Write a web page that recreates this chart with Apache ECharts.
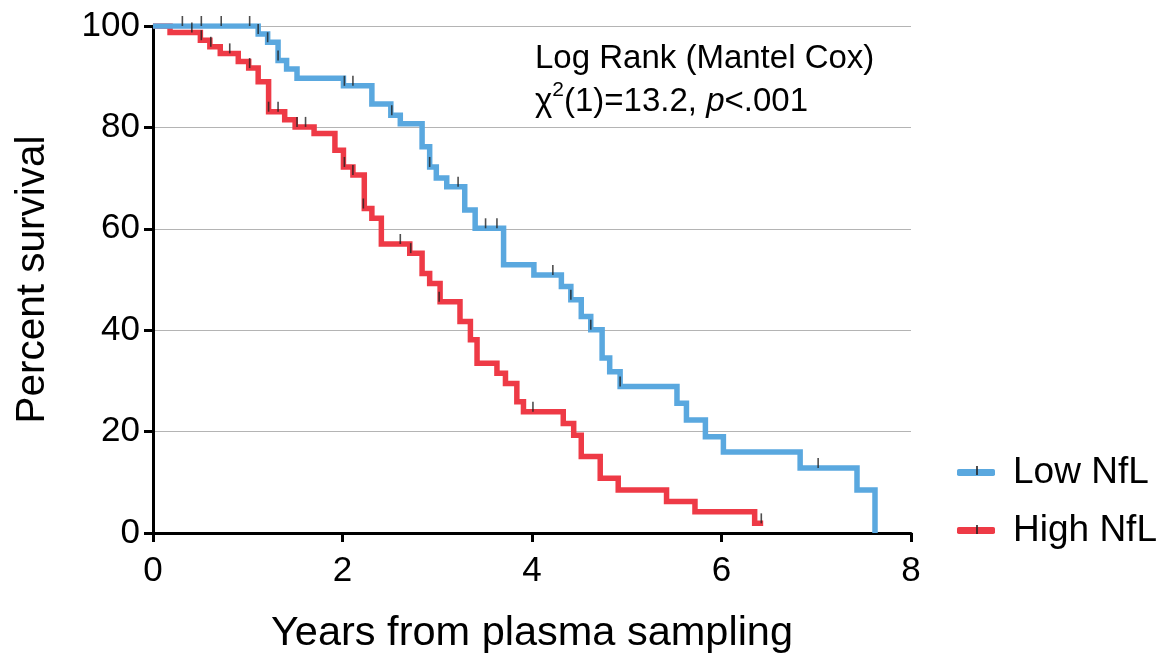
<!DOCTYPE html>
<html>
<head>
<meta charset="utf-8">
<script src="https://cdn.jsdelivr.net/npm/echarts@6/dist/echarts.min.js"></script>
<style>
  html, body { margin: 0; padding: 0; background: #fff; }
  #chart { width: 1164px; height: 654px; }
</style>
</head>
<body>
<div id="chart"></div>
<script>
// Kaplan-Meier steps: [years, percent surviving after the step]
var lowNfl = [
  [0, 100], [1.11, 98.4], [1.21, 96.8], [1.32, 93.2], [1.41, 91.5], [1.52, 89.7],
  [2.01, 88.2], [2.31, 84.6], [2.51, 82.4], [2.61, 80.7], [2.84, 76.2], [2.92, 72.2],
  [2.99, 70.0], [3.10, 68.3], [3.29, 63.7], [3.40, 60.1], [3.70, 52.9], [4.02, 50.9],
  [4.31, 48.6], [4.41, 46.0], [4.52, 42.7], [4.62, 40.1], [4.74, 34.5], [4.82, 31.8],
  [4.93, 28.9], [5.53, 25.6], [5.63, 22.3], [5.83, 19.0], [6.02, 16.0], [6.83, 12.8],
  [7.43, 8.5], [7.62, 0]
];
var highNfl = [
  [0, 100], [0.18, 98.7], [0.50, 97.2], [0.60, 95.9], [0.71, 94.6], [0.90, 93.0],
  [1.01, 91.7], [1.11, 89.0], [1.22, 83.1], [1.39, 81.5], [1.50, 80.1], [1.70, 78.8],
  [1.92, 75.5], [2.01, 72.2], [2.11, 70.6], [2.23, 64.0], [2.31, 62.1], [2.41, 57.0],
  [2.71, 55.2], [2.84, 51.2], [2.92, 49.2], [3.03, 45.6], [3.24, 41.7], [3.35, 38.1],
  [3.42, 33.5], [3.63, 31.5], [3.72, 29.5], [3.84, 25.9], [3.91, 23.9], [4.33, 21.6],
  [4.44, 19.3], [4.52, 15.1], [4.72, 10.8], [4.91, 8.5], [5.42, 6.2], [5.72, 4.2],
  [6.35, 1.9], [6.44, 1.9]
];
// censored observations
var lowCensor = [
  [0.31, 100], [0.51, 100], [0.72, 100], [1.02, 100], [1.11, 98.4], [1.21, 96.8],
  [1.32, 93.2], [2.02, 88.2], [2.11, 88.2], [2.52, 82.4], [2.92, 72.2], [3.22, 68.3],
  [3.51, 60.1], [3.63, 60.1], [4.22, 50.9], [4.41, 46.0], [4.62, 40.1], [4.93, 28.9],
  [7.02, 12.8]
];
var highCensor = [
  [0.41, 98.7], [0.51, 97.2], [0.61, 95.9], [0.81, 94.6], [1.02, 91.7], [1.22, 83.1],
  [1.32, 83.1], [1.52, 80.1], [1.61, 80.1], [2.02, 72.2], [2.11, 70.6], [2.22, 64.0],
  [2.61, 57.0], [2.72, 55.2], [3.02, 45.6], [4.01, 23.9], [6.42, 1.9]
];
var groupNames = ['Low NfL', 'High NfL'];

var blue = '#5aa8df';
var red = '#ee3a46';
var font = '"Liberation Sans", Arial, sans-serif';

var censorStyle = {
  type: 'scatter',
  symbol: 'rect',
  symbolSize: [1.6, 10],
  symbolOffset: [0, -5],
  itemStyle: { color: '#222' },
  silent: true,
  z: 5
};

var option = {
  animation: false,
  backgroundColor: '#fff',
  textStyle: { fontFamily: font, color: '#000' },
  grid: { left: 153, right: 253, top: 26, bottom: 121, outerBoundsMode: 'none', containLabel: false },
  xAxis: {
    type: 'value', min: 0, max: 8, interval: 2,
    name: 'Years from plasma sampling',
    nameLocation: 'middle', nameGap: 80,
    nameTextStyle: { fontSize: 41.5, fontFamily: font, color: '#000' },
    axisLine: { lineStyle: { color: '#000', width: 3 } },
    axisTick: { length: 9, lineStyle: { color: '#000', width: 3 } },
    axisLabel: { fontSize: 35, color: '#000', margin: 21, fontFamily: font },
    splitLine: { show: false }
  },
  yAxis: {
    type: 'value', min: 0, max: 100, interval: 20,
    name: 'Percent survival',
    nameLocation: 'middle', nameGap: 100, nameRotate: 90,
    nameTextStyle: { fontSize: 40.5, fontFamily: font, color: '#000' },
    axisLine: { show: true, lineStyle: { color: '#000', width: 3 } },
    axisTick: { show: true, length: 9, lineStyle: { color: '#000', width: 3 } },
    axisLabel: { fontSize: 35, color: '#000', margin: 13, fontFamily: font },
    splitLine: { show: true, lineStyle: { color: '#b4b4b4', width: 1.2 } }
  },
  legend: {
    data: groupNames,
    orient: 'vertical',
    left: 957, top: 454,
    itemWidth: 38, itemHeight: 7, itemGap: 21,
    icon: 'roundRect',
    padding: 0,
    textStyle: { fontSize: 37, fontFamily: font, color: '#000', padding: [0, 0, 0, 13] }
  },
  graphic: [
    {
      type: 'text', left: 535, top: 42,
      style: {
        text: '{a|Log Rank (Mantel Cox)}\n{a|\u03c7}{s|2}{a|(1)=13.2, }{i|p}{a|<.001}',
        fill: '#000',
        rich: {
          a: { fontSize: 33, fontFamily: font, lineHeight: 43 },
          s: { fontSize: 21, fontFamily: font, lineHeight: 43, verticalAlign: 'top', padding: [0, 0, 6, 0] },
          i: { fontSize: 33, fontFamily: font, fontStyle: 'italic', lineHeight: 43 }
        }
      }
    },
    { type: 'rect', shape: { x: 976.2, y: 466, width: 1.6, height: 9 }, style: { fill: '#222' }, z: 10 },
    { type: 'rect', shape: { x: 976.2, y: 525, width: 1.6, height: 9 }, style: { fill: '#222' }, z: 10 }
  ],
  series: [
    {
      name: groupNames[1], type: 'line', step: 'end', data: highNfl,
      showSymbol: false, color: red,
      lineStyle: { width: 5.5, color: red, join: 'miter', cap: 'butt' },
      z: 2
    },
    {
      name: groupNames[0], type: 'line', step: 'end', data: lowNfl,
      showSymbol: false, color: blue,
      lineStyle: { width: 5.5, color: blue, join: 'miter', cap: 'butt' },
      z: 3
    },
    Object.assign({ name: 'lowCensor', data: lowCensor }, censorStyle),
    Object.assign({ name: 'highCensor', data: highCensor }, censorStyle)
  ]
};

var chart = echarts.init(document.getElementById('chart'));
chart.setOption(option);
</script>
</body>
</html>
